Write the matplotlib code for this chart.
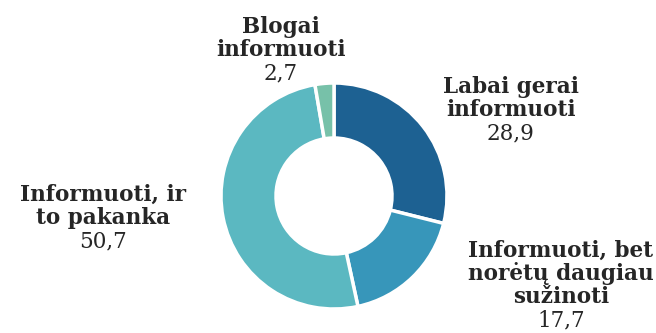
import matplotlib
matplotlib.use("Agg")
import matplotlib.pyplot as plt

# Shares of respondents (%)
kategorijos = [
    ["Labai gerai", "informuoti"],
    ["Informuoti, bet", "norėtų daugiau", "sužinoti"],
    ["Informuoti, ir", "to pakanka"],
    ["Blogai", "informuoti"],
]
reiksmes = [28.9, 17.7, 50.7, 2.7]
spalvos = ["#1d6192", "#3796ba", "#5bb8c1", "#77c1a9"]

# label anchors: centre x and first baseline, in pixels from top-left
label_x = [511, 561, 103, 281]
label_y = [93, 257, 201, 33]
eilute = 23

fig = plt.figure(figsize=(6.56, 3.33), dpi=100)
ax = fig.add_axes([0, 0, 1, 1])

# y axis runs downward, so the angles are mirrored
ax.pie(
    reiksmes,
    colors=spalvos,
    startangle=-90,
    counterclock=True,
    center=(334, 196),
    radius=113,
    wedgeprops=dict(width=55, edgecolor="white", linewidth=2.5),
    frame=True,
)
ax.set_xlim(0, 656)
ax.set_ylim(333, 0)
ax.set_aspect("equal")
ax.axis("off")

for lines, v, x, y in zip(kategorijos, reiksmes, label_x, label_y):
    for i, ln in enumerate(lines):
        ax.text(x, y + i * eilute, ln, ha="center", va="baseline", fontsize=15.5,
                fontweight="bold", family="DejaVu Serif", color="#262626")
    ax.text(x, y + len(lines) * eilute, f"{v:.1f}".replace(".", ","), ha="center",
            va="baseline", fontsize=15.5, family="DejaVu Serif", color="#262626")

plt.savefig("out.png", dpi=100)
plt.close()
